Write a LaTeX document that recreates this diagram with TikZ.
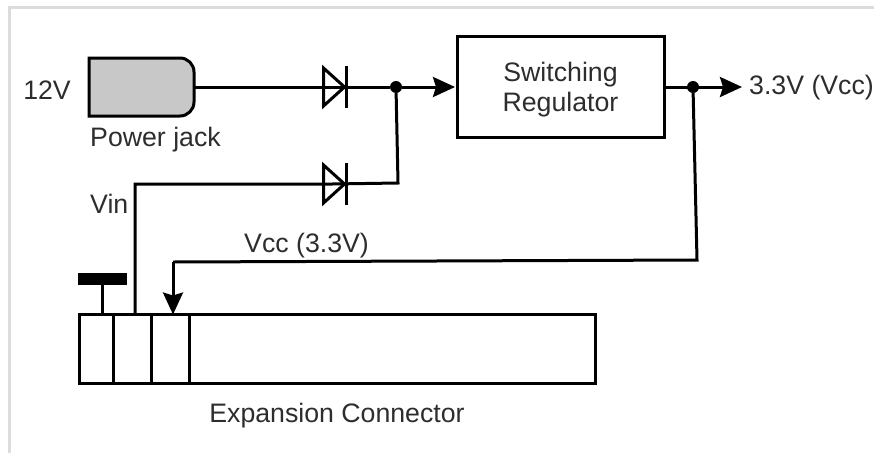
\documentclass[tikz,border=0pt]{standalone}
\usepackage{fontspec}
\setmainfont{Liberation Sans}
\usetikzlibrary{positioning, arrows.meta, shapes.geometric}
\definecolor{labelgray}{RGB}{45, 45, 45}
\definecolor{framegray}{RGB}{220, 220, 220}
\definecolor{jackgray}{RGB}{200, 200, 200}

\begin{document}
\begin{tikzpicture}[
  x=1pt, y=-1pt,
  lbl/.style={inner sep=0pt, text=labelgray, font=\fontsize{26.7}{30}\selectfont, align=center},
  wire/.style={line width=3pt},
  arr/.style={wire, -{Stealth[length=22pt, width=20pt, inset=3pt]}},
  regbox/.style={draw, line width=3pt, outer sep=0pt, minimum width=207pt, minimum height=101pt, inner sep=0pt},
  jackbox/.style={minimum width=105pt, minimum height=58pt, outer sep=0pt, inner sep=0pt},
  pinbox/.style={draw, line width=3pt, outer sep=0pt, inner sep=0pt, minimum height=69pt},
  diode/.style={draw, line width=3pt, isosceles triangle, isosceles triangle stretches, minimum width=38pt, minimum height=21pt, inner sep=0pt, outer sep=0pt},
  diodebar/.style={fill=black, minimum width=3pt, minimum height=42pt, inner sep=0pt, outer sep=0pt},
  junction/.style={circle, fill=black, minimum size=12pt, inner sep=0pt, outer sep=0pt},
  gndbar/.style={fill=black, minimum width=49pt, minimum height=12pt, inner sep=0pt, outer sep=0pt}
]
\useasboundingbox (0,0) rectangle (874,453);
\draw[framegray, line width=3pt] (9,453) -- (9,7) -- (874,7);

\node[jackbox] (jack) at (141.5,87) {};
\draw[fill=jackgray, line width=3pt] (jack.south west) -- (jack.north west) [rounded corners=14pt] -- (jack.north east) -- (jack.south east) [sharp corners] -- cycle;
\node[lbl, anchor=east] (inv) at (71,90) {12V};
\node[lbl, anchor=west] (jacklbl) at (90,140) {Power jack};

\node[regbox] (reg) at (560.5,87) {};
\node[lbl] (reglbl) at (560.5,90) {Switching\\Regulator};
\node[junction] (dotin) at (396,87) {};
\node[junction] (dotout) at (693,87) {};
\node[lbl, anchor=west] (outlbl) at (749,88) {3.3V (Vcc)};
\coordinate (outend) at (742,87);
\coordinate (regin) at (455,87);

\node[diodebar] (bara) at (346,87) {};
\node[diode, left=0pt of bara] (da) {};
\node[diodebar] (barb) at (346,184) {};
\node[diode, left=0pt of barb] (db) {};

\node[pinbox, minimum width=34pt] (pina) at (96,349) {};
\node[pinbox, minimum width=38pt, right=0pt of pina] (pinb) {};
\node[pinbox, minimum width=38pt, right=0pt of pinb] (pinc) {};
\node[pinbox, minimum width=406pt, right=0pt of pinc] (conn) {};
\node[lbl] (connlbl) at (337,416) {Expansion Connector};
\node[gndbar] (gnd) at (102,279) {};

\coordinate (vinbend) at (135,184);
\coordinate (joinbend) at (398,183);
\coordinate (vccright) at (697,260);
\coordinate (vccleft) at (173,262);
\node[lbl, anchor=west] (vinlbl) at (90,204) {Vin};
\node[lbl, anchor=west] (vcclbl) at (244,246) {Vcc (3.3V)};

\draw[wire] (jack.east) -- (da.center) -- (dotin);
\draw[arr] (dotin) -- (regin);
\draw[arr] (reg.east) -- (outend);
\draw[wire] (pinb.north -| vinbend) -- (vinbend) -- (db.center) -- (joinbend) -- (dotin);
\draw[wire] (dotout) -- (vccright) -- (vccleft);
\draw[arr] (vccleft) -- (vccleft |- pinc.north);
\draw[wire] (gnd.south) -- (gnd.south |- pina.north);
\end{tikzpicture}
\end{document}
